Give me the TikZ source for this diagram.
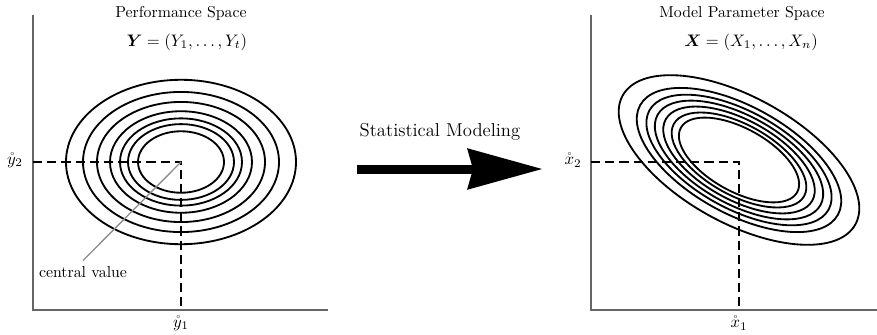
\documentclass[tikz,border=0pt]{standalone}
\usepackage{amsmath}
\usepackage{amssymb}
\usepackage{bm}
\usetikzlibrary{arrows.meta}

\begin{document}
\begin{tikzpicture}[
    x=0.6pt, y=-0.6pt,
    every node/.style={font=\fontsize{9.5}{11}\selectfont},
    axis/.style={draw=black!60, line width=0.8pt},
    guide/.style={line width=1.1pt, dash pattern=on 5.5pt off 3pt},
    contour/.style={line width=1.1pt},
    title/.style={align=center},
    leader/.style={draw=black!45, line width=0.8pt},
    bigarrow/.style={line width=5.4pt, -{Stealth[length=45pt, width=25pt, inset=3.6pt, line width=0pt]}}
]
\useasboundingbox (0,0) rectangle (877,335);

% performance space
\coordinate (yo) at (33,310);
\coordinate (yc) at (181,162);
\draw[axis] (33,15) -- (yo) -- (328,310);
\node[title] (ptitle) at (181,13) {Performance Space};
\node[font=\normalsize] (peq) at (187,42) {$\bm{Y} = (Y_1,\ldots,Y_t)$};
\foreach \r in {115,98,84,71,61,53,43}
    \draw[contour] (yc) ellipse [x radius=\r*0.6pt, y radius=\r*0.429pt];
\node[font=\normalsize] (y2) at (15,160) {$\mathring{y}_2$};
\node[font=\normalsize] (y1) at (181,323) {$\mathring{y}_1$};
\draw[guide] (33,162) -- (yc) -- (181,310);
\node (cv) at (83,272) {central value};
\draw[leader] (cv.north) -- (yc);

% arrow
\node[font=\fontsize{11.2}{13}\selectfont] (sm) at (440,132) {Statistical Modeling};
\coordinate (a1) at (357,169);
\coordinate (a2) at (542,169);
\draw[bigarrow] (a1) -- (a2);

% model parameter space
\coordinate (xo) at (591,310);
\coordinate (xc) at (739,162);
\draw[axis] (591,15) -- (xo) -- (877,310);
\node[title] (mtitle) at (742,13) {Model Parameter Space};
\node[font=\normalsize] (meq) at (751,42) {$\bm{X} = (X_1,\ldots,X_n)$};
\foreach \s in {1,.85,.77,.70,.63,.56,.50}
    \draw[contour, rotate around={-29:(739,160)}] (739,160) ellipse [x radius=\s*79.8pt, y radius=\s*37.8pt];
\node[font=\normalsize] (x2) at (573,160) {$\mathring{x}_2$};
\node[font=\normalsize] (x1) at (739,323) {$\mathring{x}_1$};
\draw[guide] (591,162) -- (xc) -- (739,310);
\end{tikzpicture}
\end{document}
